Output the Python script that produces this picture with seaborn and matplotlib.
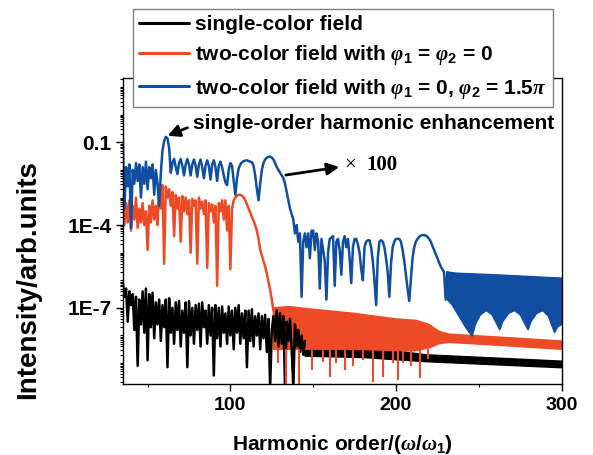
import numpy as np
import pandas as pd
import matplotlib
matplotlib.use('Agg')
import matplotlib.pyplot as plt
import matplotlib.ticker as mticker
from matplotlib.lines import Line2D
import seaborn as sns

# log10 intensity, one sample per harmonic order
black_x = list(range(35, 146))
black_lg = [-6.05, -6.6, -6.3, -7.5, -6.4, -6.9, -6.5, -7.8, -6.6, -9.1,
            -6.7, -7.6, -6.4, -7.9, -6.3, -8.9, -6.5, -7.7, -6.45, -8.1,
            -6.8, -7.6, -6.7, -8.2, -6.9, -7.7, -6.7, -9.15, -6.65, -7.9,
            -7.0, -8.3, -6.8, -7.8, -6.75, -8.4, -7.1, -7.9, -6.8, -9.15,
            -6.75, -8.0, -7.0, -8.3, -6.9, -7.8, -6.85, -8.4, -6.8, -7.7,
            -7.1, -8.3, -6.9, -8.0, -7.0, -9.45, -6.9, -8.1, -7.0, -8.4,
            -6.95, -7.9, -7.2, -8.3, -6.95, -8.0, -7.1, -8.5, -7.0, -7.9,
            -6.9, -8.3, -7.2, -8.1, -7.1, -9.15, -7.1, -8.2, -7.05, -8.4,
            -7.3, -8.0, -7.2, -8.5, -7.3, -8.1, -7.25, -8.6, -7.4, -9.9,
            -7.8, -7.3, -8.2, -7.1, -8.4, -7.2, -8.3, -7.3, -9.9, -7.5,
            -8.2, -7.4, -8.5, -9.9, -7.6, -8.4, -7.8, -8.6, -8.0, -8.7, -8.2]

red_x = list(range(35, 127))
red_lg = [-3.4, -4.0, -3.2, -3.9, -3.1, -4.2, -3.3, -3.8, -3.0, -4.1,
          -3.4, -3.9, -3.2, -4.0, -3.5, -4.9, -3.3, -3.9, -3.1, -3.8,
          -3.3, -4.0, -2.6, -3.4, -2.55, -5.4, -2.6, -3.0, -2.7, -3.3,
          -2.8, -4.4, -2.9, -3.4, -3.0, -4.6, -2.95, -3.5, -3.0, -3.6,
          -3.1, -5.0, -3.05, -3.3, -3.1, -5.4, -3.0, -3.4, -3.15, -3.6,
          -3.1, -5.55, -3.2, -3.5, -3.25, -3.9, -3.3, -6.2, -3.2, -3.5,
          -3.1, -3.8, -3.1, -4.2, -3.3, -5.6, -3.4, -3.1, -3.0, -2.93,
          -2.9, -2.9, -2.93, -3.0, -3.1, -3.25, -3.4, -3.55, -3.7, -3.85,
          -4.0, -4.2, -4.5, -4.9, -5.1, -5.3, -5.5, -5.75, -6.05, -6.35,
          -6.7, -7.1]

blue_x = list(range(35, 233))
blue_lg = [-0.7, -3.4, -1.9, -2.6, -1.8, -4.1, -2.0, -2.5, -1.75, -2.4,
           -1.8, -3.0, -1.9, -2.5, -1.7, -2.7, -1.9, -2.3, -1.8, -2.9,
           -2.0, -2.5, -3.3, -2.1, -1.3, -0.95, -0.8, -0.85, -1.2, -2.1,
           -1.75, -1.6, -1.9, -2.15, -1.75, -1.6, -1.85, -2.2, -1.8, -1.6,
           -1.8, -2.2, -1.8, -1.62, -1.85, -2.25, -1.8, -1.62, -1.9, -2.3,
           -1.85, -1.65, -1.85, -2.35, -1.8, -1.65, -1.9, -2.4, -1.85, -1.7,
           -1.9, -2.2, -2.45, -2.55, -2.0, -1.75, -1.85, -2.4, -2.9, -2.3,
           -1.95, -1.8, -1.72, -1.68, -1.66, -1.65, -1.68, -1.7, -1.72, -1.85,
           -2.2, -2.7, -3.1, -2.5, -2.0, -1.75, -1.62, -1.56, -1.52, -1.52,
           -1.55, -1.62, -1.75, -1.9, -2.0, -2.1, -2.2, -2.3, -2.5, -2.8,
           -3.1, -3.4, -3.6, -3.8, -4.3, -4.0, -4.6, -4.3, -6.6, -4.6,
           -4.3, -4.8, -4.3, -5.2, -4.2, -4.2, -4.9, -4.3, -4.6, -6.3,
           -4.5, -4.9, -5.3, -6.7, -5.0, -4.5, -4.45, -4.4, -6.2, -4.6,
           -4.5, -4.9, -5.8, -4.6, -4.4, -4.8, -4.5, -5.2, -6.1, -4.8,
           -4.5, -4.5, -4.7, -5.0, -5.6, -6.0, -4.8, -4.6, -4.55, -4.55,
           -4.8, -5.3, -6.0, -6.9, -5.2, -4.6, -4.55, -4.6, -4.8, -5.2,
           -5.7, -6.6, -5.4, -4.8, -4.6, -4.5, -4.5, -4.5, -4.6, -4.9,
           -5.3, -5.8, -6.3, -6.75, -6.0, -5.2, -4.8, -4.6, -4.5, -4.42,
           -4.38, -4.36, -4.36, -4.38, -4.42, -4.5, -4.6, -4.75, -4.9, -5.05,
           -5.2, -5.35, -5.5, -5.6, -5.7, -6.7, -5.7, -5.75]

# dense high-order parts: upper and lower edge of the filled-looking band
black_top_x = [145, 180, 218, 300]
black_top = [-8.3, -8.4, -8.7, -8.93]
black_bot_x = [145, 180, 218, 300]
black_bot = [-8.75, -8.8, -8.95, -9.17]

red_top_x = [126, 135, 150, 175, 200, 212, 220, 226, 232, 260, 300]
red_top = [-7.0, -6.95, -7.05, -7.2, -7.4, -7.45, -7.6, -7.85, -7.95, -8.05, -8.2]
red_bot_x = [126, 135, 150, 175, 200, 212, 220, 226, 232, 260, 300]
red_bot = [-8.5, -8.5, -8.5, -8.5, -8.55, -8.55, -8.45, -8.3, -8.25, -8.35, -8.5]
red_spike_x = [128.5, 133.5, 141.5, 149, 156, 160, 164, 169, 174, 180,
               186, 192, 198, 201, 204, 209, 214.5, 219.5]
red_spike = [-9.0, -9.8, -9.8, -9.25, -8.95, -9.5, -9.0, -9.25, -9.1, -8.9,
             -9.7, -9.5, -9.0, -9.6, -9.0, -9.1, -9.55, -8.85]

blue_top_x = [231, 236, 260, 300]
blue_top = [-5.7, -5.74, -5.8, -5.92]
blue_bot_x = [231, 234, 238, 242, 246, 248, 251, 254.6, 258, 261, 262.7,
              264.5, 268, 271.7, 275, 278, 279.8, 281.5, 285, 288.6, 292,
              294.5, 295.8, 297.5, 300]
blue_bot = [-6.7, -6.9, -7.3, -7.7, -8.03, -7.6, -7.25, -7.1, -7.25, -7.6, -7.8,
            -7.5, -7.2, -7.1, -7.25, -7.6, -7.8, -7.5, -7.2, -7.1, -7.3,
            -7.7, -7.9, -7.7, -7.6]

labels = ['single-color field',
          r'two-color field with $\varphi_1$ = $\varphi_2$ = 0',
          r'two-color field with $\varphi_1$ = 0, $\varphi_2$ = 1.5$\pi$']
colors = ['black', '#EE4A26', '#0F4EA0']

sns.set_theme(style='ticks')
plt.rcParams['font.family'] = ['Liberation Sans', 'DejaVu Sans']
plt.rcParams['font.weight'] = 'bold'
plt.rcParams['axes.labelweight'] = 'bold'
plt.rcParams['text.color'] = 'black'
plt.rcParams['axes.labelcolor'] = 'black'
plt.rcParams['xtick.color'] = 'black'
plt.rcParams['ytick.color'] = 'black'
plt.rcParams['mathtext.fontset'] = 'custom'
plt.rcParams['mathtext.rm'] = 'Liberation Sans:bold'
plt.rcParams['mathtext.bf'] = 'Liberation Sans:bold'
plt.rcParams['mathtext.it'] = 'Liberation Serif:italic'

LW = 1.8


def draw_line(ax, xs, lg, color):
    df = pd.DataFrame({'order': xs, 'intensity': 10.0 ** np.array(lg)})
    sns.lineplot(data=df, x='order', y='intensity', color=color, lw=LW,
                 estimator=None, sort=False, ax=ax)


def draw_band(ax, xt, top, xb, bot, color):
    px = list(xt) + list(xb)[::-1]
    py = list(10.0 ** np.array(top)) + list(10.0 ** np.array(bot))[::-1]
    ax.fill(px, py, color=color, lw=1.0, ec=color)


fig, ax = plt.subplots(figsize=(5.93, 4.55), dpi=100)
fig.subplots_adjust(left=0.207, right=0.947, top=0.829, bottom=0.156)

draw_line(ax, black_x, black_lg, colors[0])
draw_band(ax, black_top_x, black_top, black_bot_x, black_bot, colors[0])

draw_line(ax, red_x, red_lg, colors[1])
draw_band(ax, red_top_x, red_top, red_bot_x, red_bot, colors[1])
ax.vlines(red_spike_x, 10.0 ** -8.5, 10.0 ** np.array(red_spike),
          color=colors[1], lw=1.5)

draw_line(ax, blue_x, blue_lg, colors[2])
draw_band(ax, blue_top_x, blue_top, blue_bot_x, blue_bot, colors[2])

ax.set_yscale('log')
ax.set_xlim(35, 300)
ax.set_ylim(10 ** -9.76, 10 ** 1.34)

ax.xaxis.set_major_locator(mticker.MultipleLocator(100))
ax.xaxis.set_minor_locator(mticker.MultipleLocator(50))
ax.yaxis.set_major_locator(mticker.FixedLocator([1e-1, 1e-4, 1e-7]))
ax.yaxis.set_major_formatter(mticker.FixedFormatter(['0.1', '1E-4', '1E-7']))
ax.yaxis.set_minor_locator(mticker.LogLocator(base=10, subs=np.arange(1, 10), numticks=60))
ax.yaxis.set_minor_formatter(mticker.NullFormatter())

ax.tick_params(axis='both', which='major', direction='out', length=5, width=1)
ax.tick_params(axis='both', which='minor', direction='out', length=2.5, width=0.8)
ax.tick_params(axis='x', labelsize=14, pad=4)
ax.tick_params(axis='y', labelsize=15, pad=3)
for sp in ax.spines.values():
    sp.set_visible(True)
    sp.set_linewidth(1.0)
    sp.set_color('black')

ax.set_xlabel(r'Harmonic order/($\omega$/$\omega_1$)', fontsize=15, labelpad=14)
ax.set_ylabel('Intensity/arb.units', fontsize=20)
ax.yaxis.set_label_coords(-0.185, 0.34)

# annotations
ax.annotate('', xy=(60.5, 10 ** -0.80), xytext=(75.6, 10 ** -0.43),
            arrowprops=dict(arrowstyle='-|>,head_length=0.6,head_width=0.3',
                            color='black', lw=2))
ax.text(77.3, 10 ** -0.30, 'single-order harmonic enhancement', fontsize=15,
        fontweight='bold', ha='left', va='center')
ax.annotate('', xy=(167.4, 10 ** -1.88), xytext=(131.8, 10 ** -2.2),
            arrowprops=dict(arrowstyle='-|>,head_length=0.6,head_width=0.3',
                            color='black', lw=2))
ax.text(169.0, 10 ** -1.82, '×', fontsize=15, family='Liberation Serif',
        fontweight='normal', ha='left', va='center')
ax.text(182.3, 10 ** -1.82, '100', fontsize=15, family='Liberation Serif',
        fontweight='bold', ha='left', va='center')

handles = [Line2D([], [], color=c, lw=2.2) for c in colors]
leg = ax.legend(handles, labels, loc='upper left',
                bbox_to_anchor=(132.7 / 593, 1 - 8.7 / 455),
                bbox_transform=fig.transFigure, fontsize=15, frameon=True,
                fancybox=False, edgecolor='#7f7f7f', framealpha=1,
                borderpad=0.3, labelspacing=0.45, handlelength=2.4,
                handletextpad=0.3, borderaxespad=0)
leg.get_frame().set_linewidth(1.0)

fig.savefig('out.png', dpi=100)
